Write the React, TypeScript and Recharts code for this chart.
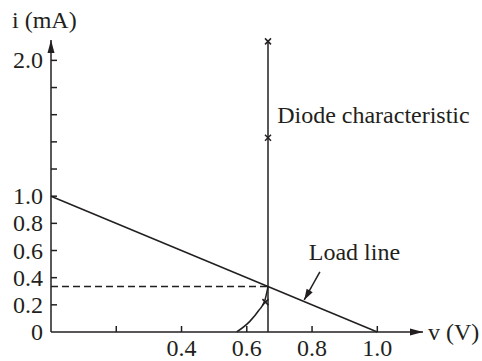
import * as React from "react";
import { ComposedChart, Line, Scatter, XAxis, YAxis } from "recharts";

// tick values and labels
const xTicks = [0.2, 0.4, 0.6, 0.8, 1.0];
const xTickLabels = ["", "0.4", "0.6", "0.8", "1.0"];
const yTicks = [0, 0.2, 0.4, 0.6, 0.8, 1.0, 1.2, 1.4, 1.6, 1.8, 2.0];
const yTickLabels = ["0", "0.2", "0.4", "0.6", "0.8", "1.0", "", "", "", "", "2.0"];

// series
const loadLine = [
  { v: 0, i: 1.0 },
  { v: 1.0, i: 0 },
];
const diodeVertical = [
  { v: 0.665, i: 0 },
  { v: 0.665, i: 2.14 },
];
const diodeKnee = [
  { v: 0.569, i: 0 },
  { v: 0.61, i: 0.08 },
  { v: 0.637, i: 0.16 },
  { v: 0.655, i: 0.23 },
  { v: 0.665, i: 0.335 },
];
const diodeMarks = [
  { v: 0.665, i: 2.14 },
  { v: 0.665, i: 1.43 },
  { v: 0.657, i: 0.22 },
];
const operatingDash = [
  { v: 0, i: 0.335 },
  { v: 0.665, i: 0.335 },
];
const pointer = [
  { v: 0.824, i: 0.442 },
  { v: 0.776, i: 0.236 },
];
const pointerTip = [{ v: 0.776, i: 0.236 }];
const xAxisEnd = [{ v: 1.14, i: 0 }];
const yAxisEnd = [{ v: 0, i: 2.15 }];
const notes = [
  { v: 0.693, i: 1.54, text: "Diode characteristic" },
  { v: 0.79, i: 0.53, text: "Load line" },
];

const INK = "#231f20";
const FONT = "'Liberation Serif', 'Times New Roman', serif";
const FS = 24;

const arrowHead = (angle: number, len = 13, half = 3.5) => (props: any) => {
  const { cx, cy } = props;
  return (
    <polygon
      points={`0,0 ${-len},${-half} ${-len},${half}`}
      fill={INK}
      transform={`translate(${cx},${cy}) rotate(${angle})`}
    />
  );
};

const cross = (props: any) => {
  const { cx, cy } = props;
  const s = 3;
  return (
    <g stroke={INK} strokeWidth={1.5}>
      <line x1={cx - s} y1={cy - s} x2={cx + s} y2={cy + s} />
      <line x1={cx - s} y1={cy + s} x2={cx + s} y2={cy - s} />
    </g>
  );
};

const noteText = (props: any) => {
  const { cx, cy, payload } = props;
  return (
    <text x={cx} y={cy} fill={INK} fontFamily={FONT} fontSize={FS}>
      {payload.text}
    </text>
  );
};

const XTick = (props: any) => {
  const { x, y, payload, index } = props;
  const label = xTickLabels[xTicks.indexOf(payload.value)] ?? "";
  return (
    <g key={index}>
      <line x1={x} y1={y} x2={x} y2={y - 6} stroke={INK} strokeWidth={1.5} />
      {label && (
        <text x={x} y={y + 24} textAnchor="middle" fill={INK} fontFamily={FONT} fontSize={FS}>
          {label}
        </text>
      )}
    </g>
  );
};

const YTick = (props: any) => {
  const { x, y, payload, index } = props;
  const label = yTickLabels[yTicks.indexOf(payload.value)] ?? "";
  return (
    <g key={index}>
      {payload.value !== 0 && (
        <line x1={x} y1={y} x2={x + 6} y2={y} stroke={INK} strokeWidth={1.5} />
      )}
      {label && (
        <text x={x - 8} y={y + 8} textAnchor="end" fill={INK} fontFamily={FONT} fontSize={FS}>
          {label}
        </text>
      )}
    </g>
  );
};

export default function App() {
  return (
    <div style={{ position: "absolute", left: 0, top: 0, background: "#fff" }}>
      <ComposedChart width={482} height={361} margin={{ top: 40, right: 59, bottom: 28, left: 50 }}>
        <XAxis
          type="number"
          dataKey="v"
          domain={[0, 1.14]}
          ticks={xTicks}
          interval={0}
          height={1}
          tickSize={0}
          tickMargin={0}
          tickLine={false}
          axisLine={{ stroke: INK, strokeWidth: 1.5 }}
          tick={XTick}
          label={(p: any) => {
            const vb = p.viewBox;
            return (
              <text x={vb.x + vb.width + 5} y={vb.y + 8} fill={INK} fontFamily={FONT} fontSize={FS}>
                v (V)
              </text>
            );
          }}
        />
        <YAxis
          type="number"
          dataKey="i"
          domain={[0, 2.15]}
          ticks={yTicks}
          interval={0}
          width={1}
          tickSize={0}
          tickMargin={0}
          tickLine={false}
          axisLine={{ stroke: INK, strokeWidth: 1.5 }}
          tick={YTick}
          label={(p: any) => {
            const vb = p.viewBox;
            return (
              <text x={vb.x + vb.width - 39} y={vb.y - 12} fill={INK} fontFamily={FONT} fontSize={FS}>
                i (mA)
              </text>
            );
          }}
        />
        <Line data={loadLine} dataKey="i" type="linear" stroke={INK} strokeWidth={1.5} dot={false} isAnimationActive={false} />
        <Line data={diodeVertical} dataKey="i" type="linear" stroke={INK} strokeWidth={1.5} dot={false} isAnimationActive={false} />
        <Line data={diodeKnee} dataKey="i" type="monotone" stroke={INK} strokeWidth={1.5} dot={false} isAnimationActive={false} />
        <Line data={operatingDash} dataKey="i" type="linear" stroke={INK} strokeWidth={1.5} strokeDasharray="7 4" dot={false} isAnimationActive={false} />
        <Line data={pointer} dataKey="i" type="linear" stroke={INK} strokeWidth={1.5} dot={false} isAnimationActive={false} />
        <Scatter data={pointerTip} dataKey="i" shape={arrowHead(119.7, 11, 3.5)} isAnimationActive={false} />
        <Scatter data={xAxisEnd} dataKey="i" shape={arrowHead(0)} isAnimationActive={false} />
        <Scatter data={yAxisEnd} dataKey="i" shape={arrowHead(-90)} isAnimationActive={false} />
        <Scatter data={diodeMarks} dataKey="i" shape={cross} isAnimationActive={false} />
        <Scatter data={notes} dataKey="i" shape={noteText} isAnimationActive={false} />
      </ComposedChart>
    </div>
  );
}
